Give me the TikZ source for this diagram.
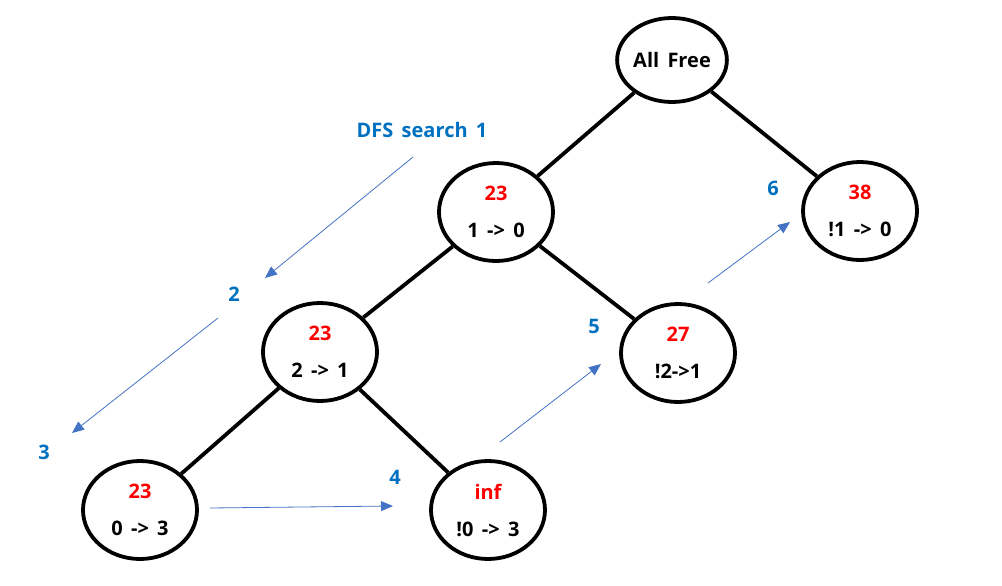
\documentclass[tikz,border=0pt]{standalone}
\usepackage{fontspec}
\setmainfont{Open Sans}[WordSpace=1.6]
\usepackage{tikz}
\usetikzlibrary{shapes.geometric, arrows.meta}
\definecolor{steplabel}{HTML}{0070C0}
\definecolor{steparrow}{HTML}{4472C4}
\tikzstyle{state} = [draw, ellipse, line width=3.8pt, inner sep=0pt,
    minimum width=114pt, minimum height=98pt, align=center,
    font=\fontsize{20}{24}\selectfont\bfseries]
\tikzstyle{edge} = [line width=3.8pt]
\tikzstyle{order} = [text=steplabel, font=\fontsize{20}{24}\selectfont\bfseries]
\tikzstyle{search} = [steparrow, line width=0.8pt, -{Triangle[length=12pt,width=10pt]}]
\newcommand{\cost}[1]{\textcolor{red}{#1}}

\begin{document}
\begin{tikzpicture}[x=1pt, y=-1pt]
            \useasboundingbox (0,0) rectangle (1002,586);

            % States
            \node (root) [state, minimum width=96pt, minimum height=84pt] at (672,60) {All Free};
            \node (a) [state] at (496,212) {\cost{23}\\[13pt]1 -> 0};
            \node (b) [state] at (860,211) {\cost{38}\\[13pt]!1 -> 0};
            \node (c) [state] at (320,352) {\cost{23}\\[13pt]2 -> 1};
            \node (d) [state] at (678,353) {\cost{27}\\[13pt]!2->1};
            \node (e) [state] at (140,510) {\cost{23}\\[13pt]0 -> 3};
            \node (f) [state] at (488,510) {\cost{inf}\\[13pt]!0 -> 3};

            % Tree edges
            \draw [edge] (root) -- (a);
            \draw [edge] (root) -- (b);
            \draw [edge] (a) -- (c);
            \draw [edge] (a) -- (d);
            \draw [edge] (c) -- (e);
            \draw [edge] (c) -- (f);

            % Search order
            \coordinate (s1a) at (413,157);
            \coordinate (s1b) at (265,278);
            \coordinate (s2a) at (218,318);
            \coordinate (s2b) at (72,433);
            \coordinate (s3a) at (210,508);
            \coordinate (s3b) at (393,506);
            \coordinate (s4a) at (500,442);
            \coordinate (s4b) at (601,364);
            \coordinate (s5a) at (708,283);
            \coordinate (s5b) at (790,222);
            \draw [search] (s1a) -- (s1b);
            \draw [search] (s2a) -- (s2b);
            \draw [search] (s3a) -- (s3b);
            \draw [search] (s4a) -- (s4b);
            \draw [search] (s5a) -- (s5b);

            \node (dfs) [order] at (422,130) {DFS search 1};
            \node (o2) [order] at (234,294) {2};
            \node (o3) [order] at (44,452) {3};
            \node (o4) [order] at (395,477) {4};
            \node (o5) [order] at (594,326) {5};
            \node (o6) [order] at (773,188) {6};

        \end{tikzpicture}
\end{document}
